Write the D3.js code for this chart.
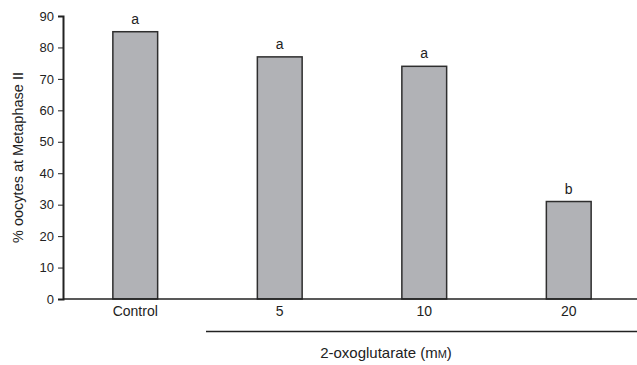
<!doctype html>
<html lang="en">
<head>
  <meta charset="utf-8">
  <title>Oocytes at Metaphase II</title>
  <script src="https://d3js.org/d3.v7.min.js"></script>
  <style>
    body { margin: 0; background: #fff; }
    text { font-family: "Liberation Sans", Arial, sans-serif; fill: #222; }
  </style>
</head>
<body>
  <script type="text/javascript">
    var categories = ["Control", "5", "10", "20"];
    var values = [85, 77, 74, 31];
    var letters = ["a", "a", "a", "b"];
    var yTicks = [0, 10, 20, 30, 40, 50, 60, 70, 80, 90];

    var width = 637, height = 365;
    var plotLeft = 63, plotTop = 16, plotBottom = 299;

    var svg = d3.select("body").append("svg")
      .attr("width", width)
      .attr("height", height);

    var x = d3.scaleBand()
      .domain(categories)
      .range([plotLeft, plotLeft + 4 * 144.5])
      .paddingInner(0.69)
      .paddingOuter(0.345);

    var y = d3.scaleLinear()
      .domain([0, 90])
      .range([plotBottom, plotTop]);

    // bars
    svg.selectAll("rect.bar")
      .data(values)
      .enter().append("rect")
      .attr("class", "bar")
      .attr("x", (d, i) => x(categories[i]))
      .attr("y", d => y(d))
      .attr("width", x.bandwidth())
      .attr("height", d => y(0) - y(d))
      .attr("fill", "#b1b2b6")
      .attr("stroke", "#2e2e2e")
      .attr("stroke-width", 1.5);

    // significance letters
    svg.selectAll("text.letter")
      .data(values)
      .enter().append("text")
      .attr("class", "letter")
      .attr("x", (d, i) => x(categories[i]) + x.bandwidth() / 2)
      .attr("y", d => y(d) - 8)
      .attr("text-anchor", "middle")
      .attr("font-size", 14)
      .text((d, i) => letters[i]);

    // y axis
    var yAxis = d3.axisLeft(y).tickValues(yTicks).tickSize(5).tickPadding(4);
    var yg = svg.append("g")
      .attr("transform", "translate(" + plotLeft + ",0)")
      .call(yAxis);
    yg.select(".domain").attr("stroke", "#222").attr("stroke-width", 2);
    yg.selectAll(".tick line").attr("stroke", "#222");
    yg.selectAll(".tick text").attr("font-size", 13).attr("fill", "#222");

    // x axis
    var xAxis = d3.axisBottom(x).tickSize(0).tickPadding(7);
    var xg = svg.append("g")
      .attr("transform", "translate(0," + plotBottom + ")")
      .call(xAxis);
    xg.select(".domain").attr("d", "M" + plotLeft + ",0H" + width)
      .attr("stroke", "#222").attr("stroke-width", 1.5);
    xg.selectAll(".tick text").attr("font-size", 14).attr("fill", "#222");

    // group line under treatment categories
    svg.append("line")
      .attr("x1", 206).attr("x2", width)
      .attr("y1", 331.5).attr("y2", 331.5)
      .attr("stroke", "#222").attr("stroke-width", 1.3);

    var xt = svg.append("text")
      .attr("x", 386).attr("y", 358)
      .attr("text-anchor", "middle")
      .attr("font-size", 15);
    xt.append("tspan").text("2-oxoglutarate (m");
    xt.append("tspan").attr("font-size", 11).text("M");
    xt.append("tspan").text(")");

    // y label
    svg.append("text")
      .attr("transform", "translate(23," + ((plotTop + plotBottom) / 2) + ") rotate(-90)")
      .attr("text-anchor", "middle")
      .attr("font-size", 14.5)
      .text("% oocytes at Metaphase II");
  </script>
</body>
</html>
